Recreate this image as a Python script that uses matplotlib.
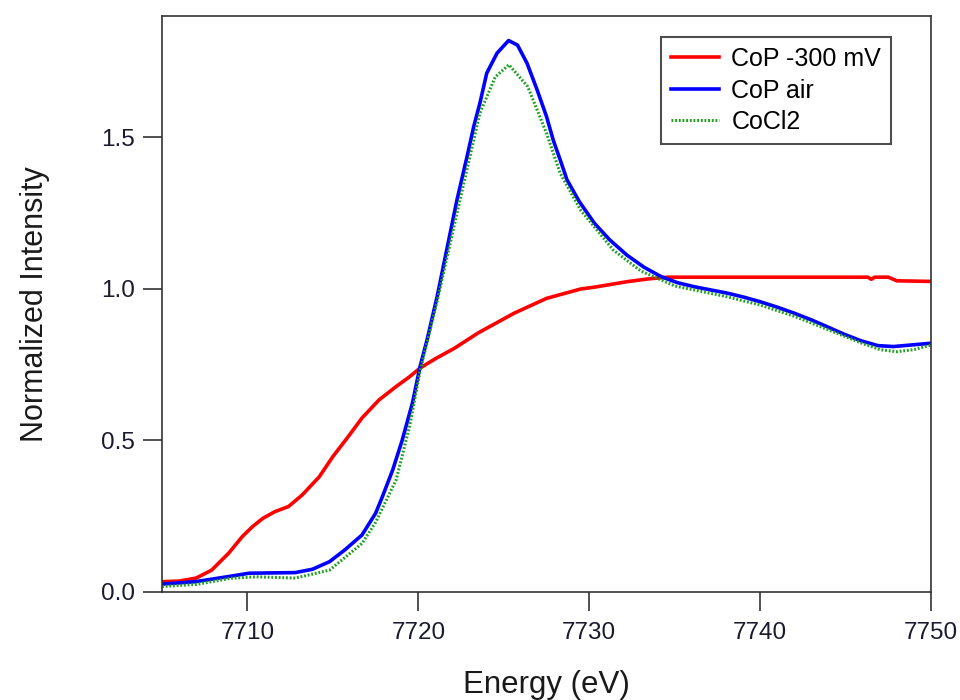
import matplotlib
matplotlib.use("Agg")
import matplotlib.pyplot as plt

plt.rcParams['font.family'] = ['Liberation Sans', 'DejaVu Sans']

# CoP -300 mV
energy_red = [7705, 7706, 7707, 7707.9, 7708.9, 7709.7, 7710.3, 7710.9, 7711.6, 7712.4,
              7713.2, 7714.2, 7715.0, 7715.9, 7716.7, 7717.7, 7718.7, 7719.5, 7720.1, 7721,
              7722.1, 7723.5, 7725.6, 7727.5, 7729.5, 7730.3, 7732.2, 7733.4, 7734.6, 7740,
              7746.3, 7746.5, 7746.7, 7747.5, 7748.0, 7750]
cop_300 = [0.034, 0.036, 0.046, 0.072, 0.128, 0.183, 0.216, 0.243, 0.265, 0.282,
           0.32, 0.38, 0.447, 0.513, 0.574, 0.634, 0.678, 0.711, 0.739, 0.77,
           0.804, 0.855, 0.92, 0.969, 1.0, 1.006, 1.024, 1.033, 1.039, 1.039,
           1.039, 1.032, 1.039, 1.039, 1.027, 1.025]

# CoP air
energy_blue = [7705, 7706.95, 7708.9, 7710.1, 7712.8, 7713.8, 7714.8, 7715.7, 7716.7, 7717.5,
               7717.9, 7718.5, 7719.05, 7719.65, 7720.1, 7720.5, 7721.1, 7721.7, 7722.26, 7722.85,
               7723.24, 7723.6, 7724.0, 7724.6, 7725.28, 7725.8, 7726.36, 7726.95, 7727.5, 7727.9,
               7728.3, 7728.7, 7729.4, 7730.3, 7731.2, 7732.2, 7733.2, 7734.2, 7735.15, 7736.1,
               7737.1, 7738.1, 7739.05, 7740, 7741, 7742, 7743, 7743.9, 7744.9, 7745.9,
               7746.9, 7747.8, 7748.8, 7750]
cop_air = [0.026, 0.034, 0.051, 0.062, 0.064, 0.075, 0.10, 0.139, 0.188, 0.26,
           0.315, 0.403, 0.50, 0.623, 0.744, 0.83, 0.975, 1.14, 1.294, 1.437,
           1.536, 1.613, 1.712, 1.778, 1.82, 1.805, 1.745, 1.657, 1.569, 1.49,
           1.426, 1.36, 1.29, 1.217, 1.162, 1.112, 1.072, 1.041, 1.021, 1.008,
           0.997, 0.986, 0.973, 0.958, 0.94, 0.92, 0.898, 0.876, 0.851, 0.829,
           0.813, 0.81, 0.815, 0.821]

# CoCl2
energy_green = [7705, 7707, 7709, 7710.5, 7712.8, 7714.8, 7716.7, 7717.5, 7718.7, 7719.5,
                7720.1, 7721.1, 7722.3, 7723.6, 7724.5, 7725.3, 7726.4, 7727.5, 7728.3, 7729.5,
                7731.4, 7733, 7735, 7738, 7740, 7742, 7744, 7746, 7747, 7748,
                7749, 7750]
cocl2 = [0.018, 0.025, 0.045, 0.05, 0.046, 0.072, 0.16, 0.23, 0.37, 0.55,
         0.73, 0.96, 1.26, 1.58, 1.70, 1.74, 1.668, 1.514, 1.382, 1.26,
         1.129, 1.06, 1.01, 0.975, 0.947, 0.91, 0.865, 0.82, 0.80, 0.793,
         0.80, 0.815]

labels = ["CoP -300 mV", "CoP air", "CoCl2"]
x_ticks = [7710, 7720, 7730, 7740, 7750]
y_ticks = [0.0, 0.5, 1.0, 1.5]

fig = plt.figure(figsize=(9.6, 7.0), dpi=100)
ax = fig.add_axes([0.16875, 0.1543, 0.8011, 0.8233])

ax.plot(energy_red, cop_300, color='#ff0000', lw=2.6, label=labels[0])
ax.plot(energy_blue, cop_air, color='#0000ff', lw=2.6, label=labels[1])
ax.plot(energy_green, cocl2, color='#1ea01e', lw=2.2, ls=(0, (0.6, 0.6)), label=labels[2])

ax.set_xlim(7705, 7750)
ax.set_ylim(0, 1.902)
ax.set_xticks(x_ticks)
ax.set_xticklabels([str(t) for t in x_ticks])
ax.set_yticks(y_ticks)
ax.set_yticklabels([f"{t:.1f}" for t in y_ticks])

for s in ax.spines.values():
    s.set_color('#333333')
    s.set_linewidth(1.2)

ax.tick_params(direction='out', length=13.5, width=1.2, color='#333333',
               labelsize=17.5, labelcolor='#1a1a2e', pad=6)
ax.tick_params(axis='x', pad=8)

ax.set_xlabel("Energy (eV)", fontsize=22.5, color='#1a1a1a', labelpad=19)
ax.set_ylabel("Normalized Intensity", fontsize=22, color='#1a1a1a', labelpad=37)

leg = ax.legend(loc='upper right', bbox_to_anchor=(0.948, 0.963), borderaxespad=0,
                fontsize=18, frameon=True, fancybox=False, handlelength=1.9,
                handletextpad=0.5, labelspacing=0.3, borderpad=0.4)
leg.get_frame().set_edgecolor('#222222')
leg.get_frame().set_linewidth(1.5)

fig.savefig("out.png", dpi=100)
